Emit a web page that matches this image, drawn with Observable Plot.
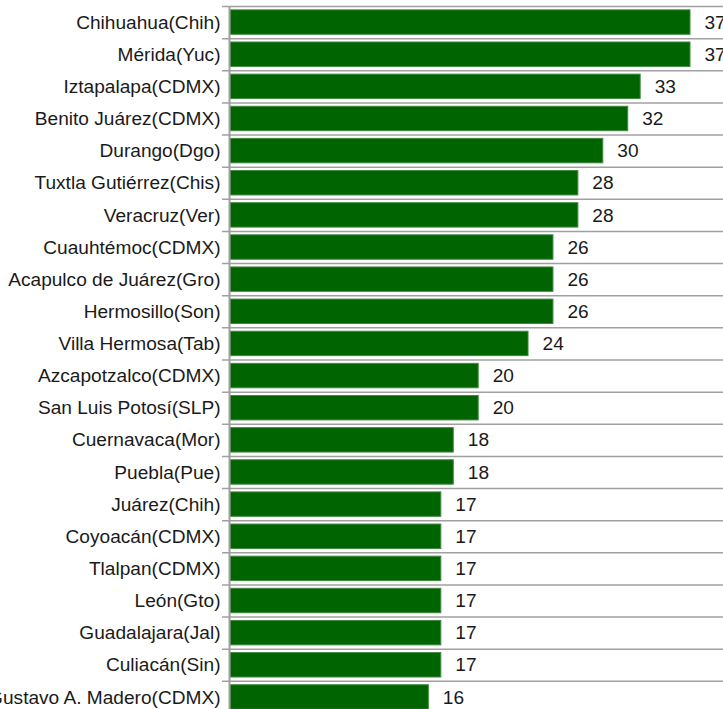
<!DOCTYPE html>
<html>
<head>
<meta charset="utf-8">
<script src="https://cdn.jsdelivr.net/npm/d3@7"></script>
<script src="https://cdn.jsdelivr.net/npm/@observablehq/plot@0.6"></script>
<style>
  html, body { margin: 0; padding: 0; background: #fff; overflow: hidden; }
  svg { display: block; }
</style>
</head>
<body>
<div id="chart"></div>
<script>
const cities = [
  "Chihuahua(Chih)", "Mérida(Yuc)", "Iztapalapa(CDMX)", "Benito Juárez(CDMX)",
  "Durango(Dgo)", "Tuxtla Gutiérrez(Chis)", "Veracruz(Ver)", "Cuauhtémoc(CDMX)",
  "Acapulco de Juárez(Gro)", "Hermosillo(Son)", "Villa Hermosa(Tab)", "Azcapotzalco(CDMX)",
  "San Luis Potosí(SLP)", "Cuernavaca(Mor)", "Puebla(Pue)", "Juárez(Chih)",
  "Coyoacán(CDMX)", "Tlalpan(CDMX)", "León(Gto)", "Guadalajara(Jal)",
  "Culiacán(Sin)", "Gustavo A. Madero(CDMX)"
];
const counts = [37, 37, 33, 32, 30, 28, 28, 26, 26, 26, 24, 20, 20, 18, 18, 17, 17, 17, 17, 17, 17, 16];

const data = cities.map((c, i) => ({city: c, value: counts[i]}));

const chart = Plot.plot({
  width: 723,
  height: 713,
  marginTop: 6,
  marginBottom: 0,
  marginLeft: 229,
  marginRight: 33,
  style: {fontFamily: "'Liberation Sans', Arial, sans-serif", fontSize: "19.1px", color: "#1a1a1a", background: "#fff"},
  x: {domain: [0, 37], axis: null},
  y: {domain: cities, paddingInner: 0.24, paddingOuter: 0.12, round: false, label: null, tickSize: 0, tickPadding: 9},
  marks: [
    Plot.ruleY(cities, {y: d => d, dy: -16.07, insetLeft: -7, insetRight: -40, stroke: "#a0a0a0", strokeWidth: 1.5}),
    Plot.barX(data, {y: "city", x: "value", fill: "#006400", stroke: "#3f8a3f", strokeWidth: 1, insetLeft: 1}),
    Plot.ruleX([0], {stroke: "#a0a0a0", strokeWidth: 2}),
    Plot.text(data, {y: "city", x: "value", text: d => String(d.value), dx: 14, textAnchor: "start", fill: "#1a1a1a", fontSize: 19.1})
  ]
});
document.getElementById("chart").appendChild(chart);
</script>
</body>
</html>
